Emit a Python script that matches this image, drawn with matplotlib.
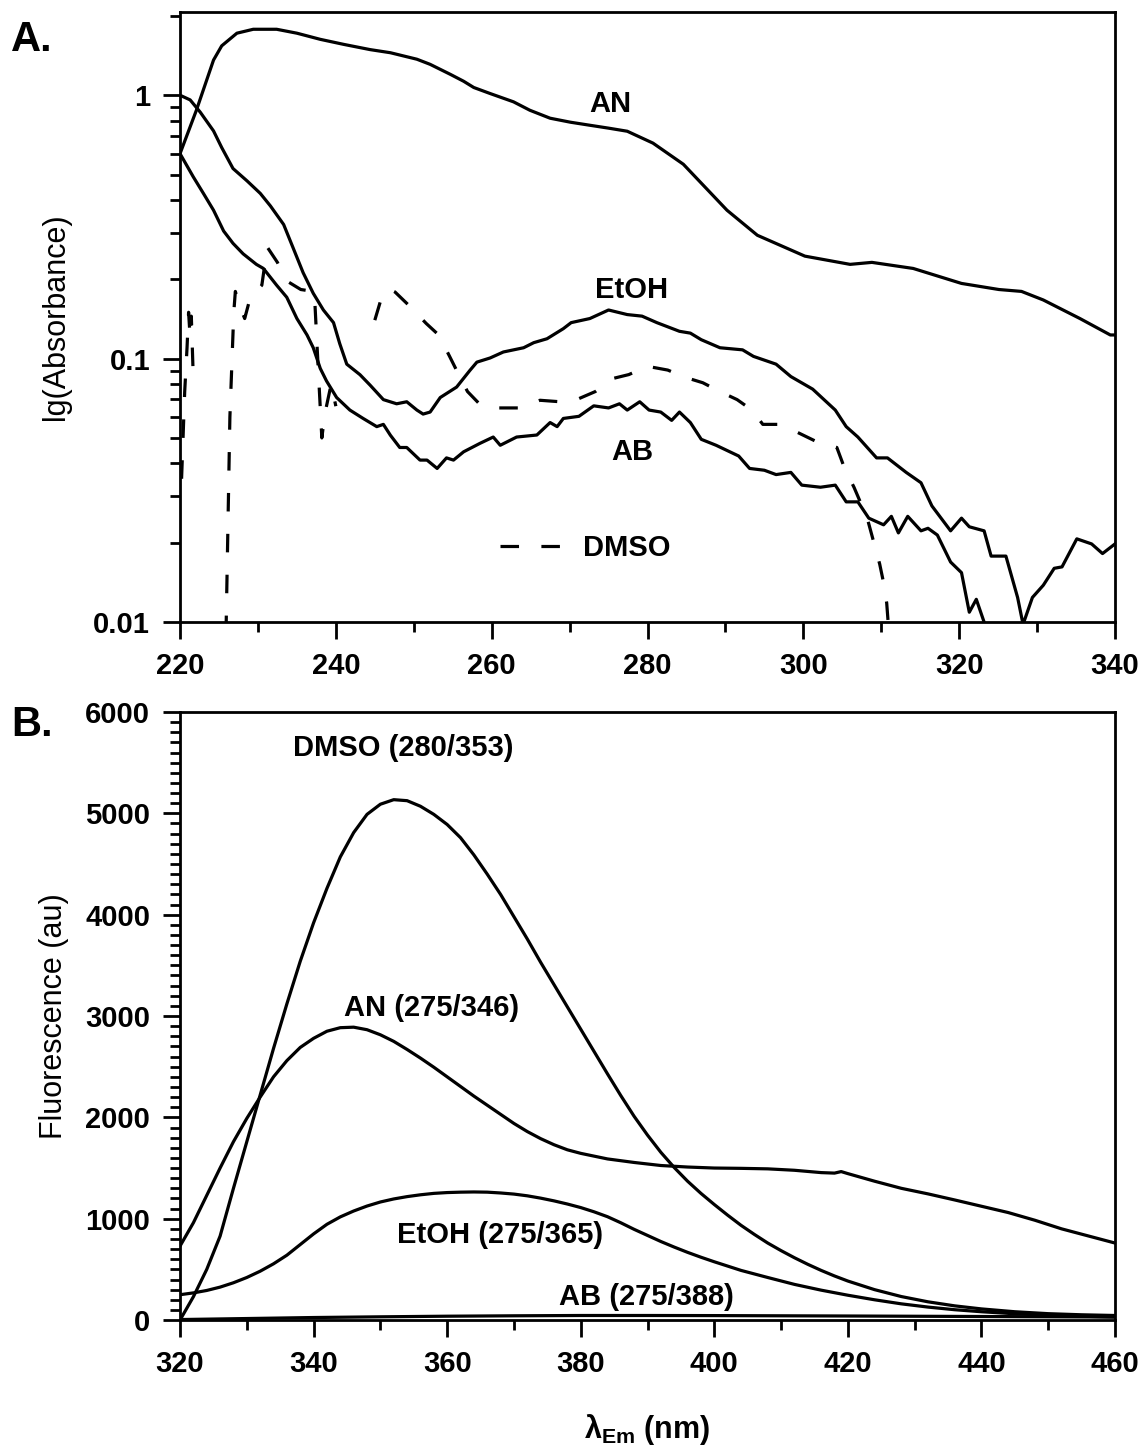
import numpy as np
import matplotlib
matplotlib.use('Agg')
import matplotlib.pyplot as plt
from matplotlib.ticker import MultipleLocator, LogLocator, FixedLocator, FixedFormatter, NullFormatter

plt.rcParams['font.family'] = ['Liberation Sans', 'DejaVu Sans']
plt.rcParams['font.weight'] = 'bold'
plt.rcParams['mathtext.fontset'] = 'custom'
plt.rcParams['mathtext.rm'] = 'Liberation Sans:bold'
plt.rcParams['mathtext.bf'] = 'Liberation Sans:bold'
plt.rcParams['mathtext.it'] = 'Liberation Sans:bold:italic'

nan = np.nan

# ---------------- Panel A: absorbance (log scale) ----------------
an_abs_nm = [220.0, 222.1, 224.3, 225.35, 227.3, 229.4, 232.4, 235.0, 238.0, 241.0, 244.4, 247.0,
             250.4, 252.1, 254.7, 256.4, 257.7, 259.8, 262.8, 264.9, 267.5, 270.1, 272.5, 275.0,
             277.4, 280.7, 284.6, 290.2, 294.1, 300.2, 306.0, 308.8, 314.1, 320.3, 325.1, 328.0,
             330.8, 335.5, 339.4, 340.0]
an_abs = [0.60, 0.877, 1.36, 1.54, 1.72, 1.78, 1.78, 1.72, 1.63, 1.56, 1.49, 1.45,
          1.37, 1.31, 1.20, 1.13, 1.07, 1.015, 0.944, 0.877, 0.818, 0.79, 0.77, 0.75,
          0.73, 0.658, 0.547, 0.366, 0.294, 0.245, 0.228, 0.232, 0.220, 0.193, 0.183, 0.180,
          0.167, 0.142, 0.123, 0.123]

etoh_abs_nm = [220.0, 221.3, 222.6, 224.3, 225.35, 226.8, 228.6, 230.3, 231.6, 233.3, 234.5, 235.8,
               237.1, 238.4, 239.7, 240.5, 241.4, 243.1, 244.4, 246.1, 247.8, 249.1, 250.4, 251.2,
               252.1, 253.4, 255.5, 257.2, 258.1, 259.8, 261.5, 264.1, 265.4, 267.1, 269.2, 270.2,
               272.6, 275.0, 277.4, 279.3, 281.2, 284.1, 285.5, 286.9, 289.3, 292.2, 293.6, 296.5,
               298.4, 301.2, 304.1, 305.5, 307.0, 309.4, 310.8, 313.2, 315.1, 316.5, 318.9, 320.3,
               321.3, 323.2, 324.1, 326.0, 327.5, 328.2, 329.4, 330.8, 332.2, 333.2, 335.1, 337.0,
               338.4, 340.0]
etoh_abs = [1.0, 0.96, 0.862, 0.732, 0.633, 0.527, 0.473, 0.424, 0.380, 0.323, 0.264, 0.212,
            0.177, 0.153, 0.137, 0.114, 0.0953, 0.0869, 0.0793, 0.0699, 0.0674, 0.0686, 0.0638, 0.0616,
            0.0627, 0.0712, 0.078, 0.0902, 0.097, 0.1006, 0.106, 0.110, 0.115, 0.119, 0.130, 0.137,
            0.142, 0.153, 0.147, 0.145, 0.137, 0.127, 0.125, 0.118, 0.110, 0.108, 0.102, 0.0953,
            0.0855, 0.0766, 0.0638, 0.0552, 0.0504, 0.042, 0.042, 0.037, 0.0338, 0.0276, 0.0222, 0.0248,
            0.023, 0.0222, 0.0178, 0.0178, 0.0124, 0.0098, 0.0124, 0.0138, 0.016, 0.0162, 0.0207, 0.0198,
            0.0182, 0.0198]

ab_abs_nm = [220.0, 221.7, 223.0, 224.3, 225.6, 226.8, 228.1, 229.8, 230.7, 232.4, 233.7, 235.0,
             236.3, 237.1, 238.0, 238.8, 240.1, 241.8, 243.5, 245.25, 246.1, 247.0, 248.2, 249.1,
             250.8, 251.7, 253.0, 254.2, 255.1, 256.4, 258.5, 260.2, 261.1, 263.2, 265.8, 267.5,
             268.4, 269.2, 271.2, 273.1, 275.0, 276.4, 277.4, 279.0, 280.2, 281.7, 283.1, 284.1,
             285.5, 286.9, 288.8, 291.7, 293.1, 295.0, 296.5, 298.4, 299.8, 302.2, 304.1, 305.5,
             307.0, 308.4, 310.3, 311.3, 312.2, 313.4, 315.1, 316.0, 317.2, 318.9, 320.3, 321.3,
             322.2, 323.2, 323.6]
ab_abs = [0.60, 0.490, 0.424, 0.366, 0.305, 0.274, 0.250, 0.228, 0.220, 0.190, 0.171, 0.142,
          0.123, 0.110, 0.0918, 0.0823, 0.0712, 0.0638, 0.0593, 0.0552, 0.0563, 0.0512, 0.046, 0.046,
          0.0412, 0.0412, 0.0383, 0.042, 0.0412, 0.0443, 0.0477, 0.0504, 0.0469, 0.0504, 0.0513, 0.0572,
          0.0552, 0.0593, 0.0604, 0.0662, 0.065, 0.0674, 0.0638, 0.0686, 0.0638, 0.0627, 0.0583, 0.0627,
          0.0572, 0.0494, 0.0469, 0.0427, 0.0383, 0.0377, 0.0363, 0.037, 0.0331, 0.0325, 0.0331, 0.0286,
          0.0286, 0.0248, 0.0234, 0.0252, 0.0218, 0.0252, 0.0222, 0.0227, 0.0214, 0.0169, 0.0154, 0.0109,
          0.0122, 0.0100, 0.008]

# DMSO absorbance: NaN marks where the trace is not drawn (non-positive values)
dmso_abs_nm = [220.2, 220.6, 220.9, 221.1, 221.3, 221.45, 221.7, 222.0,
               225.9, 226.4, 226.9, 227.1, 227.6, 228.3, 229.0, 230.5, 231.2, 232.5, 233.6, 235.5,
               237.1, 237.3, 237.6, 238.2, 238.6, 239.4, 240.0, 240.3,
               245.0, 245.9, 246.8, 247.6, 249.4, 251.6, 253.2, 254.6, 255.6, 256.9, 258.5, 260.0,
               263.6, 266.2, 268.8, 270.9, 273.3, 275.5, 277.6, 280.0, 282.6, 284.8, 287.1, 289.3,
               291.5, 293.4, 294.8, 296.9, 299.3, 301.7, 304.3, 305.3, 306.5, 308.2, 309.8, 310.3,
               310.7, 311.0]
dmso_abs = [0.035, 0.075, 0.11, 0.15, 0.12, 0.145, 0.085, nan,
            0.009, 0.06, 0.15, 0.18, 0.16, 0.142, 0.17, 0.19, 0.265, 0.232, 0.198, 0.183,
            0.18, 0.165, 0.11, 0.05, 0.062, 0.08, 0.066, nan,
            0.14, 0.172, 0.184, 0.179, 0.159, 0.136, 0.123, 0.102, 0.089, 0.075, 0.067, 0.065,
            0.065, 0.0695, 0.0686, 0.0699, 0.075, 0.084, 0.087, 0.0935, 0.0905, 0.085, 0.081, 0.075,
            0.0699, 0.0638, 0.0563, 0.0563, 0.0524, 0.0484, 0.046, 0.0383, 0.0325, 0.0248, 0.0166, 0.0141,
            0.0118, 0.009]

# ---------------- Panel B: fluorescence ----------------
dmso_fl_nm = [320, 322, 324, 326, 328, 330, 332, 334, 336, 338, 340, 342, 344, 346, 348, 350,
              352, 354, 356, 358, 360, 362, 364, 366, 368, 370, 372, 374, 376, 378, 380, 382,
              384, 386, 388, 390, 392, 394, 396, 398, 400, 402, 404, 406, 408, 410, 412, 414,
              416, 418, 420, 424, 428, 432, 436, 440, 445, 450, 455, 460]
dmso_fl = [0, 230, 500, 828, 1300, 1760, 2220, 2680, 3120, 3540, 3920, 4260, 4570, 4810, 4990, 5090,
           5135, 5125, 5070, 4990, 4890, 4760, 4590, 4400, 4200, 3980, 3760, 3530, 3310, 3090, 2870, 2650,
           2430, 2215, 2010, 1825, 1655, 1505, 1370, 1250, 1140, 1035, 935, 845, 760, 685, 615, 550,
           490, 435, 385, 300, 232, 180, 140, 110, 82, 63, 52, 45]

an_fl_nm = [320, 322, 324, 326, 328, 330, 332, 334, 336, 338, 340, 342, 344, 346, 348, 350,
            352, 354, 356, 358, 360, 362, 364, 366, 368, 370, 372, 374, 376, 378, 380, 384,
            388, 392, 396, 400, 404, 408, 412, 416, 418, 419, 420, 424, 428, 432, 436, 440,
            444, 448, 452, 456, 460]
an_fl = [730, 960, 1230, 1500, 1760, 1990, 2200, 2400, 2560, 2690, 2780, 2850, 2885, 2890, 2865, 2815,
         2750, 2670, 2585, 2495, 2400, 2305, 2210, 2120, 2030, 1940, 1860, 1790, 1730, 1680, 1645, 1590,
         1555, 1525, 1510, 1500, 1497, 1492, 1478, 1455, 1450, 1465, 1445, 1370, 1300, 1245, 1185, 1123,
         1061, 985, 900, 830, 760]

etoh_fl_nm = [320, 322, 324, 326, 328, 330, 332, 334, 336, 338, 340, 342, 344, 346, 348, 350,
              352, 354, 356, 358, 360, 362, 364, 366, 368, 370, 372, 374, 376, 378, 380, 382,
              384, 386, 388, 390, 392, 394, 396, 398, 400, 404, 408, 412, 416, 420, 424, 428,
              432, 436, 440, 445, 450, 455, 460]
etoh_fl = [250, 268, 292, 325, 368, 420, 482, 555, 640, 745, 850, 945, 1018, 1076, 1125, 1165,
           1195, 1218, 1236, 1250, 1258, 1262, 1264, 1262, 1254, 1243, 1226, 1203, 1176, 1145, 1110, 1068,
           1020, 960, 895, 835, 775, 720, 668, 620, 575, 490, 420, 352, 295, 245, 200, 160,
           128, 102, 82, 62, 48, 38, 30]

ab_fl_nm = [320, 330, 340, 350, 360, 370, 380, 390, 400, 420, 440, 460]
ab_fl = [5, 15, 25, 32, 38, 42, 45, 45, 44, 40, 35, 30]

# ---------------- Figure ----------------
fig = plt.figure(figsize=(11.43, 14.46), dpi=100)
axA = fig.add_axes([0.1575, 0.5698, 0.818, 0.4219])
axB = fig.add_axes([0.1575, 0.0871, 0.818, 0.4205])

LW = 2.3
for ax in (axA, axB):
    for sp in ax.spines.values():
        sp.set_linewidth(2.0)
    ax.tick_params(which='major', direction='out', length=12.5, width=2.0, pad=9,
                   labelsize=21, top=False, right=False)
    ax.tick_params(which='minor', direction='out', length=7, width=2.0,
                   top=False, right=False)

# Panel A
axA.plot(an_abs_nm, an_abs, color='black', lw=LW, solid_joinstyle='round')
axA.plot(etoh_abs_nm, etoh_abs, color='black', lw=LW, solid_joinstyle='round')
axA.plot(ab_abs_nm, ab_abs, color='black', lw=LW, solid_joinstyle='round')
dmso_line, = axA.plot(dmso_abs_nm, dmso_abs, color='black', lw=LW,
                      dashes=(5.8, 7.0), dash_capstyle='butt')
axA.set_yscale('log')
axA.set_xlim(220, 340)
axA.set_ylim(0.01, 2.07)
axA.xaxis.set_major_locator(MultipleLocator(20))
axA.xaxis.set_minor_locator(MultipleLocator(10))
axA.yaxis.set_major_locator(FixedLocator([0.01, 0.1, 1]))
axA.yaxis.set_major_formatter(FixedFormatter(['0.01', '0.1', '1']))
axA.yaxis.set_minor_locator(LogLocator(base=10, subs=np.arange(2, 10)))
axA.yaxis.set_minor_formatter(NullFormatter())
axA.set_ylabel('lg(Absorbance)', fontsize=22, fontweight='normal')
axA.yaxis.set_label_coords(-0.117, 0.5)

axA.text(275.2, 0.93, 'AN', fontsize=21, ha='center', va='center')
axA.text(278.0, 0.182, 'EtOH', fontsize=21, ha='center', va='center')
axA.text(278.0, 0.0442, 'AB', fontsize=21, ha='center', va='center')
axA.legend([dmso_line], ['DMSO'], loc='center left', bbox_to_anchor=(0.342, 0.121),
           frameon=False, handlelength=2.07, handletextpad=0.8, borderpad=0,
           borderaxespad=0, prop={'size': 21, 'weight': 'bold'})

# Panel B
axB.plot(dmso_fl_nm, dmso_fl, color='black', lw=LW)
axB.plot(an_fl_nm, an_fl, color='black', lw=LW)
axB.plot(etoh_fl_nm, etoh_fl, color='black', lw=LW)
axB.plot(ab_fl_nm, ab_fl, color='black', lw=LW)
axB.set_xlim(320, 460)
axB.set_ylim(0, 6000)
axB.xaxis.set_major_locator(MultipleLocator(20))
axB.xaxis.set_minor_locator(MultipleLocator(10))
axB.yaxis.set_major_locator(MultipleLocator(1000))
axB.yaxis.set_minor_locator(MultipleLocator(100))
axB.set_ylabel('Fluorescence (au)', fontsize=22, fontweight='normal')
axB.yaxis.set_label_coords(-0.119, 0.5)
axB.set_xlabel('λ$_{\\mathrm{Em}}$ (nm)', fontsize=22, fontweight='bold')
axB.xaxis.set_label_coords(0.5, -0.152)

axB.text(353.4, 5645, 'DMSO (280/353)', fontsize=21, ha='center', va='center')
axB.text(357.6, 3079, 'AN (275/346)', fontsize=21, ha='center', va='center')
axB.text(367.9, 839, 'EtOH (275/365)', fontsize=21, ha='center', va='center')
axB.text(389.8, 227, 'AB (275/388)', fontsize=21, ha='center', va='center')

fig.text(32 / 1143, 1 - 40 / 1446, 'A.', fontsize=30, ha='center', va='center')
fig.text(32 / 1143, 1 - 725 / 1446, 'B.', fontsize=30, ha='center', va='center')

fig.savefig('out.png', dpi=100, facecolor='white')
